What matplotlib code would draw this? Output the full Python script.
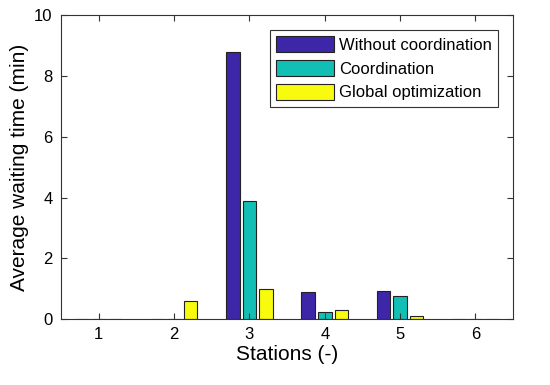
import matplotlib.pyplot as plt
import numpy as np

plt.rcParams['font.family'] = ['Liberation Sans', 'DejaVu Sans']

stations = [1, 2, 3, 4, 5, 6]
without_coord = [0, 0, 8.78, 0.88, 0.93, 0]
coordination = [0, 0, 3.9, 0.22, 0.75, 0]
global_opt = [0, 0.6, 1.0, 0.3, 0.12, 0]

x = np.array(stations)
width = 0.18
off = 0.22

fig = plt.figure(figsize=(5.5, 3.85), dpi=100)
ax = fig.add_axes([0.111, 0.171, 0.822, 0.790])

kw = dict(edgecolor='#222222', linewidth=0.8)
ax.bar(x - off, without_coord, width, color='#3e26a8', label='Without coordination', **kw)
ax.bar(x, coordination, width, color='#12bfb4', label='Coordination', **kw)
ax.bar(x + off, global_opt, width, color='#f9fb0e', label='Global optimization', **kw)

ax.set_xlim(0.5, 6.5)
ax.set_ylim(0, 10)
ax.set_xticks(x)
ax.set_yticks([0, 2, 4, 6, 8, 10])
ax.tick_params(direction='in', top=True, right=True, labelsize=12, length=4,
               color='#333333', pad=6)
for s in ax.spines.values():
    s.set_color('#333333')
    s.set_linewidth(0.8)

ax.set_xlabel('Stations (-)', fontsize=15, labelpad=2)
ax.set_ylabel('Average waiting time (min)', fontsize=15, labelpad=4)

leg = ax.legend(loc='upper right', bbox_to_anchor=(0.967, 0.952), fontsize=12,
                fancybox=False, edgecolor='#333333', handlelength=3.45,
                handleheight=1.1, handletextpad=0.3, labelspacing=0.42,
                borderpad=0.4, borderaxespad=0, framealpha=1)
leg.get_frame().set_linewidth(0.8)

fig.savefig('out.png', dpi=100)
